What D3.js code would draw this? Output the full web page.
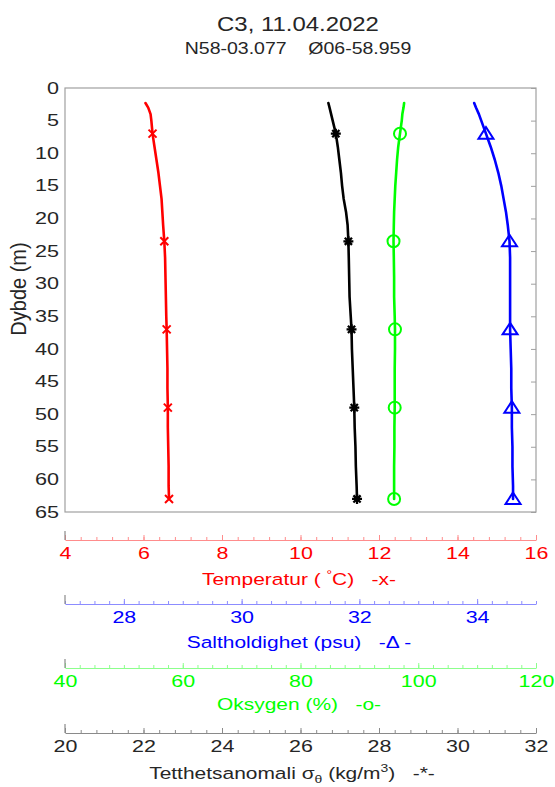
<!DOCTYPE html>
<html><head><meta charset="utf-8">
<script src="https://cdn.jsdelivr.net/npm/d3@7"></script>
<style>
body{margin:0;background:#fff}
text{font-family:"Liberation Sans",Arial,Helvetica,sans-serif}
</style>
</head><body>
<svg id="c" width="555" height="787"></svg>
<script>
// ---- data ----
const depth       = [2.3, 3, 4, 5, 7, 9, 11, 13, 15, 17, 19, 21, 23.5, 26, 29, 32, 35, 37, 40, 43, 46, 49, 52, 55, 58, 61, 63];
const temperature = [6.05, 6.12, 6.18, 6.20, 6.23, 6.28, 6.33, 6.38, 6.42, 6.46, 6.48, 6.50, 6.53, 6.55, 6.56, 6.57, 6.58, 6.59, 6.60, 6.61, 6.61, 6.62, 6.62, 6.63, 6.64, 6.64, 6.65];
const salinity    = [33.95, 33.98, 34.03, 34.07, 34.15, 34.23, 34.30, 34.36, 34.41, 34.45, 34.49, 34.52, 34.55, 34.56, 34.56, 34.56, 34.56, 34.56, 34.57, 34.58, 34.58, 34.59, 34.59, 34.60, 34.60, 34.61, 34.61];
const oxygen      = [97.6, 97.5, 97.3, 97.2, 96.9, 96.6, 96.4, 96.25, 96.1, 96.0, 95.9, 95.85, 95.8, 95.85, 95.9, 95.9, 96.0, 96.05, 96.05, 96.0, 96.0, 96.0, 95.95, 95.95, 95.9, 95.9, 95.9];
const density     = [26.71, 26.74, 26.78, 26.82, 26.90, 26.95, 26.99, 27.03, 27.06, 27.10, 27.16, 27.20, 27.22, 27.23, 27.24, 27.25, 27.28, 27.30, 27.31, 27.33, 27.35, 27.37, 27.38, 27.40, 27.41, 27.43, 27.44];
const markerDepths = [7, 23.5, 37, 49, 63];

const depthTicks = [0, 5, 10, 15, 20, 25, 30, 35, 40, 45, 50, 55, 60, 65];
const tempTicks  = [4, 6, 8, 10, 12, 14, 16];
const salTicks   = [28, 30, 32, 34];
const oxyTicks   = [40, 60, 80, 100, 120];
const densTicks  = [20, 22, 24, 26, 28, 30, 32];

const titleText    = "C3, 11.04.2022";
const subtitleText = "N58-03.077\u00a0\u00a0\u00a0\u00a0Ø06-58.959";

// ---- layout ----
const L = 65, R = 536, T = 88, B = 512;
const svg = d3.select("#c");
const FRAME = "#a0a0a0";

const y = d3.scaleLinear().domain([0, 65]).range([T, B]);
const xT = d3.scaleLinear().domain([4, 16]).range([L, R]);
const xS = d3.scaleLinear().domain([27, 35]).range([L, R]);
const xO = d3.scaleLinear().domain([40, 120]).range([L, R]);
const xD = d3.scaleLinear().domain([20, 32]).range([L, R]);

function stext(x, yy, str, size, sx, color, anchor) {
  return svg.append("text")
    .attr("transform", `translate(${x},${yy}) scale(${sx},1)`)
    .attr("text-anchor", anchor || "middle")
    .attr("font-size", size)
    .attr("fill", color)
    .text(str);
}

// title
stext(298, 31, titleText, 21, 1.14, "#262626");
stext(298, 54, subtitleText, 16, 1.22, "#262626");

// frame
svg.append("rect").attr("x", L).attr("y", T).attr("width", R - L).attr("height", B - T)
  .attr("fill", "none").attr("stroke", FRAME).attr("stroke-width", 1.2);

// left axis labels
const yAxis = svg.append("g").attr("transform", `translate(${L},0)`)
  .call(d3.axisLeft(y).tickValues(depthTicks).tickSize(0).tickFormat(d3.format("d")));
yAxis.select(".domain").remove();
const ySX = 1.35;
yAxis.selectAll("text")
  .attr("x", -6 / ySX).attr("transform", `scale(${ySX},1)`)
  .attr("font-size", 16).attr("fill", "#262626").attr("font-family", null);

// right inward ticks
const rAxis = svg.append("g").attr("transform", `translate(${R},0)`)
  .call(d3.axisLeft(y).tickValues(depthTicks).tickSize(5).tickFormat(() => ""));
rAxis.select(".domain").remove();
rAxis.selectAll("line").attr("stroke", FRAME);

// y label
svg.append("text")
  .attr("transform", "translate(26,289) rotate(-90) scale(1,1.1)")
  .attr("text-anchor", "middle").attr("font-size", 20).attr("fill", "#262626")
  .text("Dybde (m)");

// ---- profiles ----
const profiles = [
  {vals: temperature, x: xT, color: "#ff0000", marker: "x"},
  {vals: density, x: xD, color: "#000000", marker: "*"},
  {vals: oxygen, x: xO, color: "#00ff00", marker: "o"},
  {vals: salinity, x: xS, color: "#0000ff", marker: "^"}
];
const markerPath = {
  "x": "M-4,-4L4,4M-4,4L4,-4",
  "*": "M0,-5L0,5M-5,0L5,0M-3.6,-3.6L3.6,3.6M-3.6,3.6L3.6,-3.6",
  "^": "M0,-6.5L7.5,5L-7.5,5Z"
};
profiles.forEach(p => {
  const pts = depth.map((d, i) => ({d, v: p.vals[i]}));
  svg.append("path").datum(pts)
    .attr("fill", "none").attr("stroke", p.color).attr("stroke-width", 2.6)
    .attr("stroke-linejoin", "round").attr("stroke-linecap", "round")
    .attr("d", d3.line().x(q => p.x(q.v)).y(q => y(q.d)));
  const mk = pts.filter(q => markerDepths.includes(q.d));
  const g = svg.append("g");
  mk.forEach(q => {
    const cx = p.x(q.v), cy = y(q.d);
    if (p.marker === "o") {
      g.append("circle").attr("cx", cx).attr("cy", cy).attr("r", 6)
        .attr("fill", "none").attr("stroke", p.color).attr("stroke-width", 2);
    } else {
      g.append("path").attr("transform", `translate(${cx},${cy})`).attr("d", markerPath[p.marker])
        .attr("fill", "none").attr("stroke", p.color).attr("stroke-width", p.marker === "*" ? 2.3 : 2);
    }
  });
});

// ---- bottom axes ----
function bottomAxis(scale, yPos, ticks, minorStep, lineColor, textColor, titleBuilder, titleX, titleY) {
  const g = svg.append("g").attr("transform", `translate(0,${yPos})`);
  const dom = scale.domain();
  const minor = d3.range(dom[0], dom[1] + minorStep / 2, minorStep);
  const mAx = g.append("g").call(d3.axisBottom(scale).tickValues(minor).tickSize(-3).tickSizeOuter(0).tickFormat(() => ""));
  mAx.select(".domain").remove();
  mAx.selectAll("line").attr("stroke", lineColor);
  const ax = g.append("g").call(d3.axisBottom(scale).tickValues(ticks).tickSize(-5).tickSizeOuter(0).tickPadding(7));
  ax.select(".domain").attr("stroke", lineColor).attr("stroke-width", 1.2);
  ax.selectAll("line").attr("stroke", lineColor);
  ax.selectAll("text").attr("font-size", 16.5).attr("fill", textColor).attr("font-family", null)
    .attr("transform", "scale(1.3,1)");
  g.append("line").attr("x1", L).attr("x2", L).attr("y1", -9).attr("y2", 0).attr("stroke", "#8a8a8a").attr("stroke-width", 1.2);
  const t = svg.append("text").attr("transform", `translate(${titleX},${titleY}) scale(1.27,1)`)
    .attr("text-anchor", "middle").attr("font-size", 16.5).attr("fill", textColor);
  titleBuilder(t);
}

bottomAxis(xT, 540, tempTicks, 0.4, "#ff8c8c", "#ff0000", t => {
  t.append("tspan").text("Temperatur (\u00a0");
  t.append("tspan").attr("font-size", 11).attr("dy", -7).text("°");
  t.append("tspan").attr("dy", 7).text("C)\u00a0\u00a0\u00a0-x-");
}, 299, 585);
bottomAxis(xS, 604, salTicks, 0.25, "#8c8cff", "#0000ff", t => {
  t.append("tspan").text("Saltholdighet (psu)\u00a0\u00a0\u00a0-Δ -");
}, 299, 648);
bottomAxis(xO, 668, oxyTicks, 2.5, "#8cff8c", "#00ff00", t => {
  t.append("tspan").text("Oksygen (%)\u00a0\u00a0\u00a0-o-");
}, 299, 710);
bottomAxis(xD, 733, densTicks, 0.4, "#8a8a8a", "#262626", t => {
  t.append("tspan").text("Tetthetsanomali σ");
  t.append("tspan").attr("font-size", 11).attr("dy", 4).text("θ");
  t.append("tspan").attr("dy", -4).text(" (kg/m");
  t.append("tspan").attr("font-size", 11).attr("dy", -7).text("3");
  t.append("tspan").attr("dy", 7).text(")\u00a0\u00a0\u00a0-*-");
}, 292, 779);
</script>
</body></html>
